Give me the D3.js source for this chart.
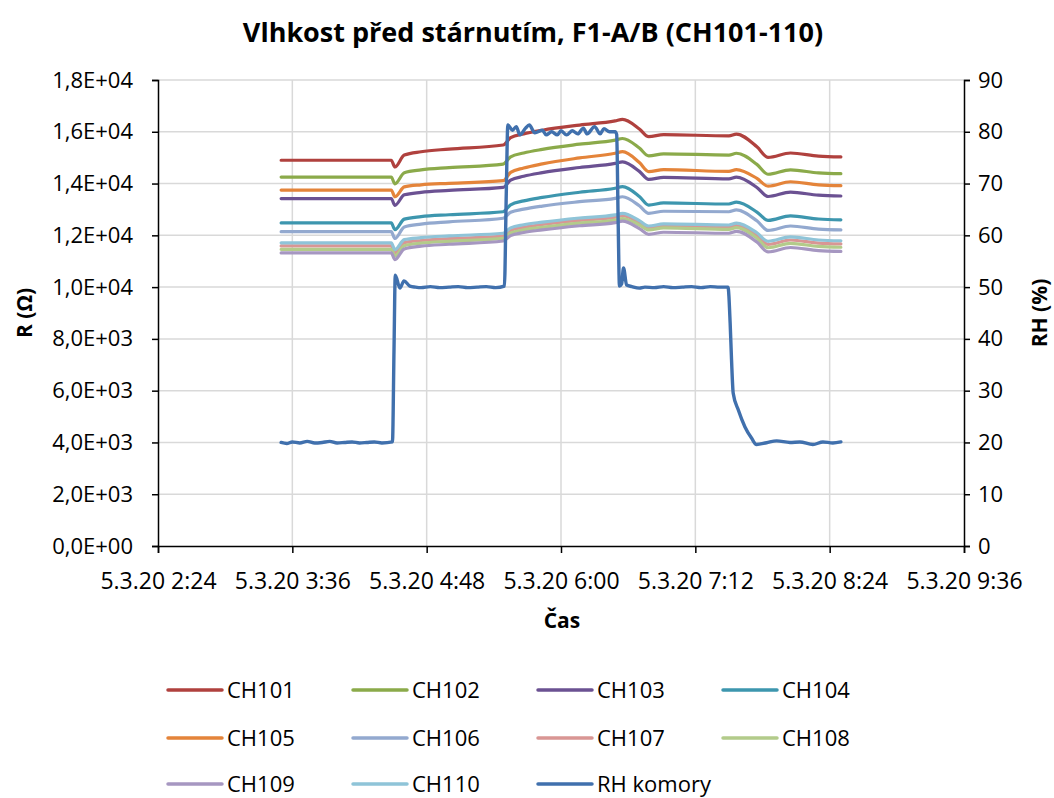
<!DOCTYPE html>
<html>
<head>
<meta charset="utf-8">
<script src="https://cdn.jsdelivr.net/npm/d3@7"></script>
<style>
  html, body { margin: 0; padding: 0; background: #fff; }
  svg { display: block; font-family: "Open Sans", Lato, sans-serif; }
</style>
</head>
<body>
<svg id="chart" width="1054" height="798"></svg>
<script>
// ---------- DATA ----------
const chTimes = ["3:30","4:29","4:31","4:36","4:45","5:00","5:29","5:33","5:40","5:50","6:10","6:29","6:33","6:42","6:47","6:55","7:30","7:34","7:45","7:51","8:03","8:18","8:30"];
const ch101 = [14900,14900,14640,15100,15230,15330,15490,15770,15920,16060,16260,16420,16480,16110,15810,15890,15840,15910,15420,15010,15180,15060,15030];
const ch102 = [14250,14250,13990,14420,14530,14615,14750,15030,15180,15320,15520,15680,15740,15370,15070,15150,15100,15170,14740,14360,14530,14410,14380];
const ch103 = [13420,13420,13160,13565,13660,13735,13850,14130,14280,14420,14620,14780,14840,14470,14160,14240,14180,14250,13850,13500,13670,13550,13520];
const ch104 = [12480,12480,12220,12625,12720,12795,12910,13180,13330,13465,13665,13820,13880,13500,13170,13250,13210,13280,12900,12580,12750,12630,12600];
const ch105 = [13750,13750,13490,13870,13950,14010,14110,14430,14600,14760,14990,15170,15230,14810,14460,14540,14470,14540,14200,13900,14070,13950,13920];
const ch106 = [12140,12140,11880,12320,12430,12520,12660,12890,13010,13130,13300,13430,13490,13140,12850,12930,12910,12980,12560,12190,12360,12240,12210];
const ch107 = [11590,11590,11330,11720,11800,11870,11970,12190,12310,12420,12580,12700,12760,12500,12310,12370,12310,12380,11990,11650,11820,11700,11670];
const ch108 = [11460,11460,11200,11600,11700,11770,11880,12090,12210,12310,12470,12590,12650,12400,12210,12290,12230,12300,11890,11520,11690,11570,11540];
const ch109 = [11320,11320,11060,11475,11580,11655,11780,11990,12110,12210,12370,12490,12550,12260,12040,12120,12080,12150,11740,11360,11530,11410,11380];
const ch110 = [11710,11710,11450,11835,11910,11980,12080,12290,12410,12510,12670,12790,12850,12570,12360,12440,12400,12470,12100,11770,11940,11820,11790];

const rhKomory = [
  ["3:30",20.0],["3:33",19.8],["3:36",20.1],["3:40",19.9],["3:44",20.2],["3:48",19.9],["3:52",20.0],["3:56",20.2],
  ["4:00",19.9],["4:04",20.0],["4:08",20.1],["4:12",19.9],["4:16",20.0],["4:20",20.1],["4:24",19.9],["4:29:40",20.1],
  ["4:30:30",38],["4:31:10",52.3],["4:33:40",49.8],["4:35:50",51.2],["4:39",50.2],["4:42",50.0],["4:45",49.9],
  ["4:50",50.1],["4:55",49.9],["5:00",50.0],["5:05",50.1],["5:10",49.9],["5:15",50.0],["5:20",50.1],["5:25",49.9],
  ["5:29:40",50.2],["5:30:40",68],["5:31:30",81.3],["5:34",80.3],["5:36",81.0],["5:38",79.4],["5:41",80.7],
  ["5:43",81.3],["5:46",79.8],["5:50",80.3],["5:52",79.4],["5:55",80.0],["5:58",79.4],["6:00",80.2],["6:03",79.4],
  ["6:06",80.2],["6:09",79.6],["6:12",80.7],["6:14",79.6],["6:18",81.0],["6:21",79.6],["6:23",80.6],["6:26",80.0],
  ["6:29",80.0],["6:29:50",79.5],["6:30:40",62],["6:31:20",50.2],["6:32:30",50.6],["6:33:30",53.7],["6:35:10",50.4],
  ["6:38",50.1],["6:42",49.8],["6:45",50.0],["6:50",49.9],["6:55",50.1],["7:00",49.9],["7:05",50.0],["7:10",50.1],
  ["7:15",49.9],["7:20",50.1],["7:25",50.0],["7:29:30",50.0],["7:30:40",43],["7:31:24",36],["7:32:18",29.5],
  ["7:35",26.3],["7:38:36",23.0],["7:42:12",20.8],["7:44:48",19.6],["7:50:12",19.95],["7:55:36",20.3],
  ["8:02:42",20.0],["8:08",20.1],["8:15",19.6],["8:20:24",20.1],["8:25:42",19.9],["8:30",20.1]
];

const seriesNames = ["CH101","CH102","CH103","CH104","CH105","CH106","CH107","CH108","CH109","CH110"];
const seriesValues = [ch101,ch102,ch103,ch104,ch105,ch106,ch107,ch108,ch109,ch110];
const seriesColors = ["#B0413E","#8BAA4A","#6B5192","#3D96AE","#E4843A","#93A9CF","#D99694","#B3CB8A","#A697C1","#8FC4D8"];
const rhName = "RH komory";
const rhColor = "#4070AD";

const xTickTimes = ["2:24","3:36","4:48","6:00","7:12","8:24","9:36"];
const xTickPrefix = "5.3.20 ";
const yLeftTicks = [0,2000,4000,6000,8000,10000,12000,14000,16000,18000];
const yLeftLabels = ["0,0E+00","2,0E+03","4,0E+03","6,0E+03","8,0E+03","1,0E+04","1,2E+04","1,4E+04","1,6E+04","1,8E+04"];
const yRightTicks = [0,10,20,30,40,50,60,70,80,90];

const titleText = "Vlhkost před stárnutím, F1-A/B (CH101-110)";
const xTitle = "Čas";
const yLeftTitle = "R (Ω)";
const yRightTitle = "RH (%)";

// ---------- DRAW ----------
function parseT(s) {
  const p = s.split(":").map(Number);
  return new Date(2020, 2, 5, p[0], p[1], p[2] || 0);
}

const svg = d3.select("#chart");
const L = 158, R = 964, T = 80, B = 546;
const FS = 22;
const FONT = "'Open Sans', Lato, sans-serif";

const x = d3.scaleTime().domain([parseT(xTickTimes[0]), parseT(xTickTimes[xTickTimes.length-1])]).range([L, R]);
const yL = d3.scaleLinear().domain([0, 18000]).range([B, T]);
const yR = d3.scaleLinear().domain([0, 90]).range([B, T]);

// gridlines
const grid = svg.append("g").attr("stroke", "#d9d9d9").attr("stroke-width", 1.5);
yLeftTicks.slice(1).forEach(v => {
  grid.append("line").attr("x1", L).attr("x2", R).attr("y1", yL(v)).attr("y2", yL(v));
});
xTickTimes.slice(1, -1).forEach(t => {
  grid.append("line").attr("x1", x(parseT(t))).attr("x2", x(parseT(t))).attr("y1", T).attr("y2", B);
});

// axes
const axL = d3.axisLeft(yL).tickValues(yLeftTicks).tickSize(6).tickPadding(19)
  .tickFormat((d, i) => yLeftLabels[i]);
const gL = svg.append("g").attr("transform", `translate(${L},0)`).call(axL);

const axR = d3.axisRight(yR).tickValues(yRightTicks).tickSize(6).tickPadding(8);
const gR = svg.append("g").attr("transform", `translate(${R},0)`).call(axR);

const axB = d3.axisBottom(x).tickValues(xTickTimes.map(parseT)).tickSize(7).tickPadding(20)
  .tickFormat((d, i) => xTickPrefix + xTickTimes[i]);
const gB = svg.append("g").attr("transform", `translate(0,${B})`).call(axB);

[gL, gR, gB].forEach(g => {
  g.select(".domain").attr("stroke", "#000").attr("stroke-width", 1.5);
  g.selectAll(".tick line").attr("stroke", "#000").attr("stroke-width", 1.5);
  g.selectAll(".tick text").attr("fill", "#000").attr("font-size", FS).attr("font-family", FONT);
});
gB.selectAll(".tick text").attr("font-size", 23);

// series lines
const line = d3.line().x(d => x(d.t)).y(d => yL(d.v)).curve(d3.curveMonotoneX);
const lines = svg.append("g").attr("fill", "none").attr("stroke-linejoin", "round").attr("stroke-linecap", "round");
seriesValues.forEach((vals, i) => {
  const data = chTimes.map((t, j) => ({ t: parseT(t), v: vals[j] }));
  lines.append("path").attr("d", line(data)).attr("stroke", seriesColors[i]).attr("stroke-width", 3.2);
});
const rhLine = d3.line().x(d => x(d.t)).y(d => yR(d.v)).curve(d3.curveMonotoneX);
lines.append("path")
  .attr("d", rhLine(rhKomory.map(d => ({ t: parseT(d[0]), v: d[1] }))))
  .attr("stroke", rhColor).attr("stroke-width", 3.4);

// titles
svg.append("text").attr("x", 533).attr("y", 42).attr("text-anchor", "middle")
  .attr("font-size", 27).attr("font-weight", "bold").text(titleText);
svg.append("text").attr("x", 562).attr("y", 628).attr("text-anchor", "middle")
  .attr("font-size", 21).attr("font-weight", "bold").text(xTitle);
svg.append("text").attr("transform", "translate(32,313) rotate(-90)").attr("text-anchor", "middle")
  .attr("font-size", 21).attr("font-weight", "bold").text(yLeftTitle);
svg.append("text").attr("transform", "translate(1047,313) rotate(-90)").attr("text-anchor", "middle")
  .attr("font-size", 21).attr("font-weight", "bold").text(yRightTitle);

// legend
const legNames = seriesNames.concat([rhName]);
const legColors = seriesColors.concat([rhColor]);
const colX = [168, 353, 538, 723];
const rowY = [690, 738, 784];
const leg = svg.append("g");
legNames.forEach((n, i) => {
  const cx = colX[i % 4], cy = rowY[Math.floor(i / 4)];
  leg.append("line").attr("x1", cx).attr("x2", cx + 54).attr("y1", cy).attr("y2", cy)
    .attr("stroke", legColors[i]).attr("stroke-width", 3.5).attr("stroke-linecap", "round");
  leg.append("text").attr("x", cx + 59).attr("y", cy).attr("dy", "0.36em")
    .attr("font-size", FS).text(n);
});
</script>
</body>
</html>
